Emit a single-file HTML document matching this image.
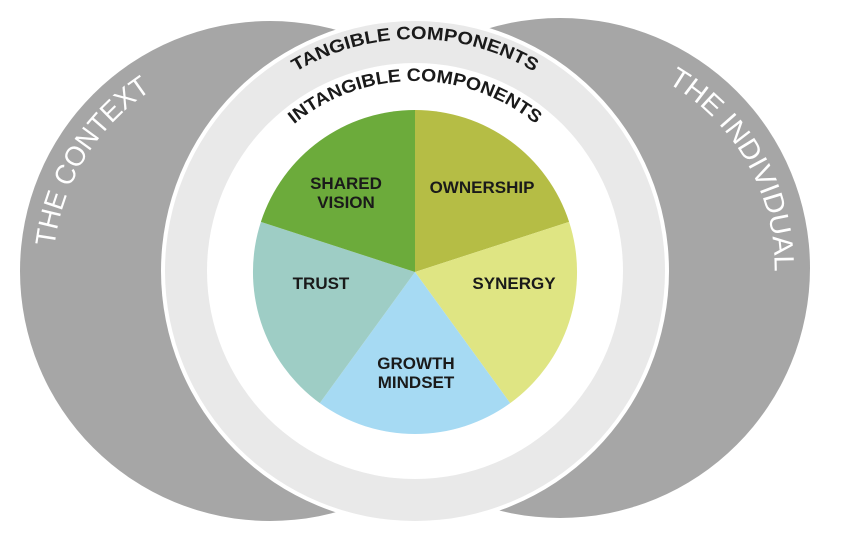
<!DOCTYPE html>
<html><head><meta charset="utf-8"><style>
html,body{margin:0;padding:0;background:#fff;}
svg{display:block;}
.lab{font-family:"Liberation Sans",sans-serif;font-weight:bold;font-size:17px;fill:#1a1a1a;text-anchor:middle;}
.arc{font-family:"Liberation Sans",sans-serif;font-weight:bold;fill:#1a1a1a;}
.out{font-family:"Liberation Sans",sans-serif;fill:#fff;font-size:28px;}
</style></head><body>
<svg width="843" height="546" viewBox="0 0 843 546" xmlns="http://www.w3.org/2000/svg">
<defs>
<path id="pT" d="M281.4,81.1 A233,233 0 0 1 548.6,81.1"/>
<path id="pI" d="M292.2,125.7 A191,191 0 0 1 537.8,125.7"/>
<path id="pC" d="M53.5,287.1 A217,217 0 0 1 187.0,71.5"/>
<path id="pR" d="M640.3,69.6 A214,214 0 0 1 772.0,301.5"/>
</defs>
<circle cx="560" cy="268" r="250" fill="#a6a6a6"/>
<circle cx="270" cy="271" r="250" fill="#a6a6a6"/>
<circle cx="415" cy="271" r="254" fill="#ffffff"/>
<circle cx="415" cy="271" r="250" fill="#e9e9e9"/>
<circle cx="415" cy="271" r="208" fill="#ffffff"/>
<g>
<path d="M415,272 L415,110 A162,162 0 0 1 569.1,221.9 Z" fill="#b5bd45"/>
<path d="M415,272 L569.1,221.9 A162,162 0 0 1 510.2,403.1 Z" fill="#dfe583"/>
<path d="M415,272 L510.2,403.1 A162,162 0 0 1 319.8,403.1 Z" fill="#a6daf3"/>
<path d="M415,272 L319.8,403.1 A162,162 0 0 1 260.9,221.9 Z" fill="#9ecdc5"/>
<path d="M415,272 L260.9,221.9 A162,162 0 0 1 415,110 Z" fill="#6cab3b"/>
</g>
<text class="lab" x="346" y="189">SHARED</text>
<text class="lab" x="346" y="208">VISION</text>
<text class="lab" x="482" y="193">OWNERSHIP</text>
<text class="lab" x="321" y="289">TRUST</text>
<text class="lab" x="514" y="289">SYNERGY</text>
<text class="lab" x="416" y="369">GROWTH</text>
<text class="lab" x="416" y="388">MINDSET</text>
<text class="arc" font-size="18"><textPath href="#pT" startOffset="50%" text-anchor="middle" textLength="250" lengthAdjust="spacingAndGlyphs">TANGIBLE COMPONENTS</textPath></text>
<text class="arc" font-size="18"><textPath href="#pI" startOffset="50%" text-anchor="middle" textLength="262" lengthAdjust="spacingAndGlyphs">INTANGIBLE COMPONENTS</textPath></text>
<text class="out"><textPath href="#pC" startOffset="50%" text-anchor="middle" textLength="190" lengthAdjust="spacingAndGlyphs">THE CONTEXT</textPath></text>
<text class="out"><textPath href="#pR" startOffset="50%" text-anchor="middle" textLength="228" lengthAdjust="spacingAndGlyphs">THE INDIVIDUAL</textPath></text>
</svg>
</body></html>
